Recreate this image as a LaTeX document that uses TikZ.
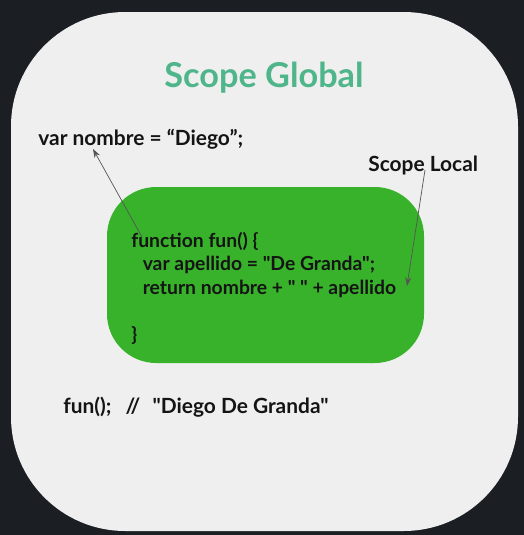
\documentclass[tikz,border=0pt]{standalone}
\usepackage{fontspec}
\setmainfont{Lato}[Ligatures=TeXOff]
\usetikzlibrary{arrows.meta}

\definecolor{screen}{HTML}{1B1F23}
\definecolor{slide}{HTML}{EFEFEF}
\definecolor{titlegreen}{HTML}{4FB58A}
\definecolor{boxgreen}{HTML}{38B22B}
\definecolor{pointergray}{HTML}{555555}

\tikzset{
  body/.style={inner sep=0pt, anchor=base west, text=black!92,
    font=\fontsize{11.9}{13.3}\selectfont\bfseries},
  codetext/.style={body, align=left, font=\fontsize{11}{13.3}\selectfont\bfseries},
  pointer/.style={pointergray, thin, -{Stealth[length=5pt,width=3.5pt]}}
}

\begin{document}
\begin{tikzpicture}[x=0.02cm,y=-0.02cm]
  \fill[screen] (0,0) rectangle (524,535);   % background
  \useasboundingbox (0,0) rectangle (524,535);
  \fill[slide, rounded corners=65] (11,12) rectangle (518,531);   % slide

  \node[inner sep=0pt, anchor=base, text=titlegreen,
    font=\fontsize{19.5}{22}\selectfont\bfseries] (title) at (264,87) {Scope Global};

  \node[body] (nombre) at (38,145) {var nombre = “Diego”;};
  \node[body] (local) at (368,171) {Scope Local};

  \fill[boxgreen, rounded corners=28] (107,187) rectangle (424,363);   % local scope
  \node[codetext] (code) at (131,341) {function fun() \{\\
    \hspace*{6.5pt}var apellido = "De Granda";\\
    \hspace*{6.5pt}return nombre + " " + apellido\\
    \strut\\
    \}};

  \node[body] (call) at (63,413) {fun();\hspace{8pt}//\hspace{7pt}"Diego De Granda"};

  \coordinate (fnTop) at (142,237);
  \coordinate (nombreTip) at (93,149);
  \coordinate (localStart) at (425,170);
  \coordinate (localTip) at (407,286);
  \draw[pointer] (fnTop) -- (nombreTip);
  \draw[pointer] (localStart) -- (localTip);
\end{tikzpicture}
\end{document}
